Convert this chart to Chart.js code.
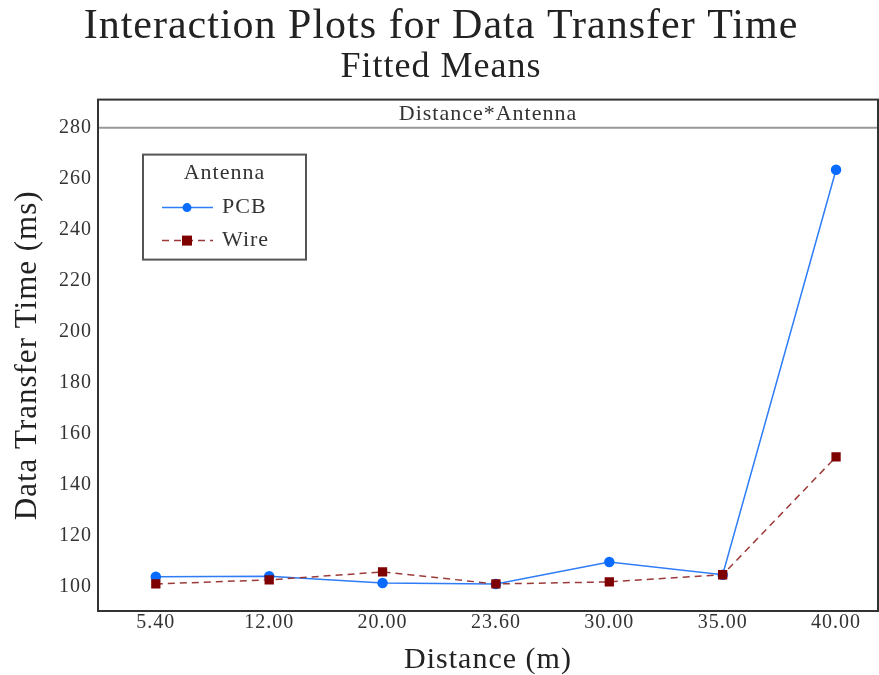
<!DOCTYPE html>
<html>
<head>
<meta charset="utf-8">
<script src="https://cdn.jsdelivr.net/npm/chart.js@4"></script>
<style>
  html, body { margin: 0; padding: 0; background: #fff; }
  #wrap { width: 879px; height: 675px; }
</style>
</head>
<body>
<div id="wrap"><canvas id="interaction"></canvas></div>
<script>
const distances = ["5.40", "12.00", "20.00", "23.60", "30.00", "35.00", "40.00"];
const pcbMeans = [104, 104.2, 101.6, 101.2, 109.8, 104.8, 263.5];
const wireMeans = [101.2, 102.8, 105.9, 101.2, 102, 104.8, 151];
const yTicks = [100, 120, 140, 160, 180, 200, 220, 240, 260, 280];

const serif = "'Liberation Serif', 'DejaVu Serif', serif";
const ink = "#222";

// a little extra letter spacing, the original typeface is wider
const spacing = {
	id: "spacing",
	beforeUpdate(chart) { chart.ctx.letterSpacing = "1px"; },
	beforeLayout(chart) { chart.ctx.letterSpacing = "1px"; },
	beforeDraw(chart) { chart.ctx.letterSpacing = "1px"; }
};

// the strip on top of the panel, and the frame around it
const panelFrame = {
	id: "panelFrame",
	afterDatasetsDraw(chart) {
		const a = chart.chartArea;
		const ctx = chart.ctx;
		const stripBottom = chart.scales.y.getPixelForValue(280);
		ctx.save();
		ctx.fillStyle = "#fff";
		ctx.fillRect(a.left, a.top, a.right - a.left, stripBottom - a.top);
		ctx.strokeStyle = "#999";
		ctx.lineWidth = 2;
		ctx.beginPath();
		ctx.moveTo(a.left, stripBottom);
		ctx.lineTo(a.right, stripBottom);
		ctx.stroke();
		ctx.fillStyle = "#333";
		ctx.font = "22px " + serif;
		ctx.textAlign = "center";
		ctx.textBaseline = "middle";
		ctx.fillText("Distance*Antenna", (a.left + a.right) / 2, (a.top + stripBottom) / 2 + 1);
		ctx.strokeStyle = "#333";
		ctx.lineWidth = 2;
		ctx.strokeRect(a.left, a.top, a.right - a.left, a.bottom - a.top);
		ctx.restore();
	}
};

// legend box drawn inside the panel
const boxLegend = {
	id: "boxLegend",
	afterDraw(chart) {
		const ctx = chart.ctx;
		const a = chart.chartArea;
		const x = a.left + 45, y = a.top + 55, w = 163, h = 105;
		ctx.save();
		ctx.strokeStyle = "#555";
		ctx.lineWidth = 2;
		ctx.strokeRect(x, y, w, h);
		ctx.fillStyle = "#333";
		ctx.font = "22px " + serif;
		ctx.textAlign = "center";
		ctx.textBaseline = "middle";
		ctx.fillText("Antenna", x + w / 2, y + 19);
		chart.data.datasets.forEach((ds, i) => {
			const ly = y + 53 + i * 33;
			ctx.strokeStyle = ds.borderColor;
			ctx.lineWidth = 1.5;
			ctx.setLineDash(ds.borderDash || []);
			ctx.beginPath();
			ctx.moveTo(x + 19, ly);
			ctx.lineTo(x + 70, ly);
			ctx.stroke();
			ctx.setLineDash([]);
			ctx.fillStyle = ds.pointBackgroundColor;
			if (ds.pointStyle === "rect") {
				ctx.fillRect(x + 44 - 5, ly - 5, 10, 10);
			} else {
				ctx.beginPath();
				ctx.arc(x + 44, ly, 4.5, 0, Math.PI * 2);
				ctx.fill();
			}
			ctx.fillStyle = "#333";
			ctx.textAlign = "left";
			ctx.fillText(ds.label, x + 79, ly);
		});
		ctx.restore();
	}
};

const toPoints = (values) => values.map((v, i) => ({ x: i, y: v }));

new Chart(document.querySelector("#interaction"), {
	type: "line",
	data: {
		datasets: [{
			label: "PCB",
			data: toPoints(pcbMeans),
			order: 2,
			borderColor: "#2e7cf6",
			pointBackgroundColor: "#0a6cff",
			pointBorderColor: "#0a6cff",
			pointStyle: "circle",
			pointRadius: 4.5,
			borderWidth: 1.5,
			fill: false
		}, {
			label: "Wire",
			data: toPoints(wireMeans),
			order: 1,
			borderColor: "#9c3a3a",
			borderDash: [7, 5],
			pointBackgroundColor: "#7f0000",
			pointBorderColor: "#7f0000",
			pointStyle: "rect",
			pointRadius: 5.5,
			borderWidth: 1.5,
			fill: false
		}]
	},
	options: {
		responsive: true,
		maintainAspectRatio: false,
		animation: false,
		layout: { autoPadding: false, padding: { left: 4, right: 1, top: 0, bottom: 0 } },
		plugins: {
			legend: { display: false },
			tooltip: { enabled: false },
			title: {
				display: true,
				text: "Interaction Plots for Data Transfer Time",
				color: ink,
				font: { family: serif, size: 42, weight: "normal", lineHeight: 1.0 },
				padding: { top: 6, bottom: 0 }
			},
			subtitle: {
				display: true,
				text: "Fitted Means",
				color: ink,
				font: { family: serif, size: 36, weight: "normal", lineHeight: 1.1 },
				padding: { top: 0, bottom: 12 }
			}
		},
		scales: {
			x: {
				type: "linear",
				min: -0.51,
				max: 6.37,
				grid: { display: false, drawTicks: false },
				border: { display: false },
				afterBuildTicks: (scale) => {
					scale.ticks = distances.map((d, i) => ({ value: i }));
				},
				afterFit: (scale) => {
					scale.paddingLeft = 0;
					scale.paddingRight = 0;
				},
				ticks: {
					color: "#333",
					font: { family: serif, size: 20 },
					maxRotation: 0,
					padding: 0,
					callback: (value) => distances[value]
				},
				title: {
					display: true,
					text: "Distance (m)",
					color: ink,
					font: { family: serif, size: 30, lineHeight: 1.0 },
					padding: { top: 10, bottom: 0 }
				}
			},
			y: {
				min: 90.6,
				max: 291,
				grid: { display: false, drawTicks: false },
				border: { display: false },
				afterBuildTicks: (scale) => {
					scale.ticks = yTicks.map((v) => ({ value: v }));
				},
				ticks: {
					color: "#333",
					font: { family: serif, size: 20 },
					padding: 6
				},
				title: {
					display: true,
					text: "Data Transfer Time (ms)",
					color: ink,
					font: { family: serif, size: 31, lineHeight: 1.0 },
					padding: { top: 8, bottom: 10 }
				}
			}
		}
	},
	plugins: [spacing, panelFrame, boxLegend]
});
</script>
</body>
</html>
